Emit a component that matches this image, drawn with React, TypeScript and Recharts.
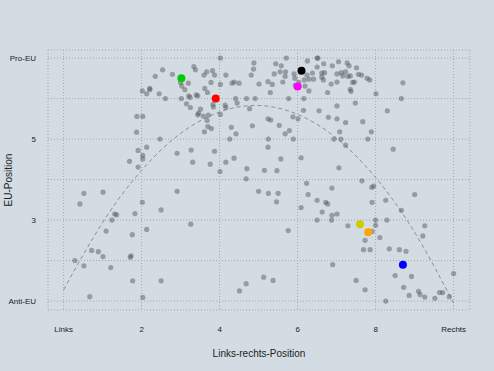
import { CartesianGrid, Cell, ComposedChart, Line, Scatter, XAxis, YAxis } from 'recharts'

// Axis ticks: 0 = "Links", 10 = "Rechts"; 1 = "Anti-EU", 7 = "Pro-EU".
const xTicks = [0, 2, 4, 6, 8, 10]
const yTicks = [1, 2, 3, 4, 5, 6, 7]
const xTickNames: Record<number, string> = { 0: 'Links', 10: 'Rechts' }
const yTickNames: Record<number, string> = { 1: 'Anti-EU', 3: '3', 5: '5', 7: 'Pro-EU' }

// All parties, [links-rechts, EU-position].
const parties: [number, number][] = [
  [2.02, 6.19], [2.13, 6.12], [2.21, 6.25], [2.21, 6.22], [1.88, 5.56], [2.03, 5.56], [1.87, 5.17],
  [1.91, 4.72], [2.13, 4.8], [2.03, 4.6], [2.03, 4.51], [1.69, 4.45], [1.91, 4.31],
  [4.02, 7.0], [4.88, 6.88], [2.54, 6.71], [2.79, 6.6], [3.34, 6.79], [3.38, 6.71], [3.67, 6.66],
  [3.6, 6.58], [3.82, 6.69], [3.87, 6.58], [4.16, 6.58], [4.81, 6.58], [4.87, 6.73], [2.35, 6.55],
  [3.0, 6.4], [3.2, 6.38], [3.03, 6.31], [3.11, 6.22], [3.78, 6.4], [4.02, 6.35], [4.38, 6.41],
  [4.32, 6.38], [4.5, 6.38], [3.62, 6.25], [3.69, 6.15], [2.45, 6.12], [3.21, 6.07], [3.4, 6.09],
  [3.44, 6.07], [2.61, 6.0], [3.02, 6.0], [3.24, 6.03], [4.41, 6.0], [4.69, 6.0], [4.91, 6.0],
  [5.01, 6.36], [3.15, 5.87], [3.25, 5.78], [3.51, 5.74], [3.83, 5.86], [3.84, 5.79], [4.14, 5.84],
  [4.16, 5.78], [4.45, 5.89], [4.77, 5.75], [3.46, 5.64], [3.44, 5.6], [3.58, 5.57], [3.71, 5.59],
  [4.02, 5.61], [3.68, 5.46], [3.7, 5.31], [3.79, 5.26], [3.61, 5.18], [4.3, 5.29], [4.42, 5.13],
  [4.84, 5.33], [2.47, 5.0], [4.26, 5.0], [3.27, 4.73], [2.91, 4.65], [3.87, 4.7], [3.31, 4.43],
  [3.76, 4.38], [4.16, 4.43], [4.37, 4.53], [4.01, 4.2], [4.7, 4.27], [4.68, 4.02],
  [5.71, 7.0], [6.5, 7.0], [6.52, 7.0], [5.44, 6.86], [5.58, 6.81], [5.4, 6.61], [5.55, 6.66],
  [5.69, 6.66], [5.68, 6.55], [5.91, 6.61], [5.62, 6.41], [5.93, 6.5], [5.24, 6.42], [5.35, 6.35],
  [6.25, 6.93], [6.67, 6.86], [6.89, 6.81], [7.05, 6.91], [7.27, 6.88], [7.32, 6.81], [7.51, 6.76],
  [6.5, 6.78], [6.62, 6.63], [6.69, 6.64], [6.38, 6.63], [6.24, 6.58], [6.29, 6.48], [6.17, 6.46],
  [6.41, 6.48], [6.62, 6.53], [6.66, 6.46], [6.03, 6.4], [6.19, 6.31], [7.12, 6.64], [7.01, 6.61],
  [7.23, 6.66], [7.29, 6.55], [7.16, 6.56], [7.35, 6.56], [7.56, 6.6], [7.64, 6.58], [6.86, 6.36],
  [7.01, 6.41], [7.41, 6.4], [7.46, 6.41], [5.94, 6.33], [6.29, 6.19], [6.77, 6.15], [7.35, 6.23],
  [7.37, 6.18], [5.3, 6.15], [5.77, 6.0], [6.16, 6.0], [7.48, 5.89], [6.15, 5.71], [6.55, 5.7],
  [7.01, 5.82], [5.24, 5.5], [5.31, 5.47], [5.88, 5.55], [6.01, 5.5], [6.79, 5.54], [7.01, 5.5],
  [7.23, 5.41], [7.67, 5.43], [5.53, 5.34], [5.79, 5.21], [5.68, 5.13], [7.08, 5.18], [5.25, 5.0],
  [5.89, 5.0], [6.93, 5.0], [7.11, 5.0], [5.24, 4.8], [7.23, 4.85], [5.57, 4.51], [6.09, 4.54],
  [5.15, 4.23], [5.47, 4.22], [7.06, 4.29],
  [7.78, 6.5], [7.85, 6.46], [8.7, 6.39], [8.01, 6.12], [8.66, 6.0], [8.3, 5.7], [7.89, 5.18],
  [7.8, 5.0], [8.45, 4.75],
  [0.52, 3.66], [1.01, 3.69], [0.42, 3.4], [2.02, 3.44], [1.83, 3.16], [1.31, 3.15], [1.36, 3.13],
  [1.24, 3.0], [2.13, 2.77], [1.09, 2.73], [1.76, 2.64], [0.72, 2.25], [0.89, 2.22], [1.01, 2.1],
  [1.73, 2.12], [1.71, 2.08], [0.29, 2.0], [0.52, 1.87], [1.21, 1.83], [1.77, 1.5], [0.67, 1.11],
  [2.03, 1.09],
  [2.91, 3.71], [2.5, 3.25], [3.26, 2.9], [2.5, 1.5], [4.68, 1.43], [4.51, 1.25], [5.0, 3.71],
  [5.25, 3.66], [5.5, 3.66], [5.46, 3.45], [6.23, 3.91], [6.27, 3.63], [6.88, 3.79], [6.5, 3.49],
  [6.72, 3.44], [6.77, 3.4], [6.09, 3.31], [6.63, 3.2], [6.88, 3.12], [7.01, 3.15], [6.5, 3.0],
  [6.87, 3.0], [7.29, 2.86], [5.76, 2.74], [7.73, 2.5], [7.69, 2.27], [6.9, 1.9], [5.13, 1.59],
  [5.37, 1.51], [7.5, 1.51], [7.73, 1.28], [7.65, 3.97],
  [7.9, 3.81], [7.95, 3.84], [7.91, 3.44], [8.26, 3.49], [9.0, 3.63], [8.66, 3.24], [8.0, 3.0],
  [8.29, 3.0], [8.0, 2.87], [9.26, 2.86], [7.91, 2.72], [8.11, 2.57], [9.21, 2.61], [7.86, 2.27],
  [8.35, 2.29], [8.61, 2.27], [8.78, 2.23], [8.5, 1.63], [8.92, 1.61], [10.0, 1.68], [8.72, 1.34],
  [8.86, 1.14], [9.1, 1.24], [9.14, 1.16], [9.26, 1.1], [9.52, 1.07], [9.64, 1.21], [9.72, 1.21],
  [9.89, 1.11], [8.26, 1.0],
]

// The highlighted parties, drawn on top.
const highlightX = [3.02, 3.9, 6.1, 6.0, 7.6, 7.81, 8.7]
const highlightY = [6.5, 6.0, 6.69, 6.3, 2.9, 2.7, 1.9]
const highlightColors = ['#00cc00', '#ff0000', '#000000', '#ff00ff', '#cccc00', '#ffa500', '#0000ff']

const fitX = [0, 1, 2, 3, 4, 5, 6, 7, 8, 9, 10]
const fitY = [1.28, 2.94, 4.23, 5.14, 5.67, 5.83, 5.61, 5.02, 4.05, 2.7, 0.95]

const partyData = parties.map(([x, y]) => ({ x, y }))
const highlightData = highlightX.map((x, i) => ({ x, y: highlightY[i], color: highlightColors[i] }))
const fitData = fitX.map((x, i) => ({ x, y: fitY[i] }))

const font = '"Liberation Sans", Arial, sans-serif'

export default function App() {
  return (
    <div style={{ position: 'fixed', left: 0, top: 0, width: 494, height: 371, background: '#d3dce3' }}>
      <ComposedChart width={494} height={371} margin={{ top: 50, right: 24, bottom: 0, left: 0 }}>
        <CartesianGrid stroke="#a3a7ab" strokeDasharray="1 2" />
        <XAxis
          type="number"
          dataKey="x"
          domain={[-0.4, 10.42]}
          ticks={xTicks}
          interval={0}
          tickFormatter={(v: number) => xTickNames[v] ?? String(v)}
          axisLine={false}
          tickLine={false}
          tickSize={0}
          tickMargin={16}
          height={61}
          tick={{ fontSize: 8, fill: '#222', fontFamily: font }}
          label={{
            value: 'Links-rechts-Position',
            position: 'insideBottom',
            offset: 14,
            style: { fontSize: 10, fill: '#222', fontFamily: font },
          }}
        />
        <YAxis
          type="number"
          dataKey="y"
          domain={[0.78, 7.2]}
          ticks={yTicks}
          interval={0}
          tickFormatter={(v: number) => yTickNames[v] ?? ''}
          axisLine={false}
          tickLine={false}
          tickSize={0}
          tickMargin={12}
          width={48}
          tick={{ fontSize: 8, fill: '#222', fontFamily: font }}
          label={{
            value: 'EU-Position',
            angle: -90,
            position: 'insideLeft',
            offset: 8,
            style: { fontSize: 10, fill: '#222', fontFamily: font, textAnchor: 'middle' },
          }}
        />
        <Scatter
          data={partyData}
          isAnimationActive={false}
          shape={(p: any) => <circle cx={p.cx} cy={p.cy} r={2.6} fill="#4d4d4d" fillOpacity={0.45} />}
        />
        <Line
          data={fitData}
          dataKey="y"
          type="natural"
          stroke="#8c8f92"
          strokeWidth={1}
          strokeDasharray="4 3"
          dot={false}
          activeDot={false}
          isAnimationActive={false}
        />
        <Scatter
          data={highlightData}
          isAnimationActive={false}
          shape={(p: any) => <circle cx={p.cx} cy={p.cy} r={4} fill={p.fill} />}
        >
          {highlightData.map((d) => (
            <Cell key={d.color} fill={d.color} />
          ))}
        </Scatter>
      </ComposedChart>
    </div>
  )
}
